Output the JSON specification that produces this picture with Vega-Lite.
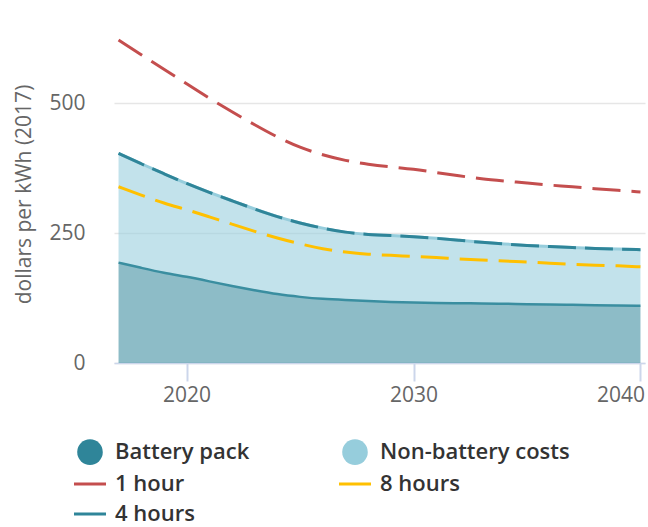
{
  "$schema": "https://vega.github.io/schema/vega-lite/v6.json",
  "width": 531,
  "height": 338,
  "autosize": {"type": "none"},
  "padding": {"left": 114, "top": 25, "right": 3, "bottom": 164},
  "background": "white",
  "config": {
    "view": {"stroke": null},
    "font": "Open Sans"
  },
  "datasets": {
    "areas": [
      {"year": 2017, "battery": 193, "total": 403},
      {"year": 2018, "battery": 183, "total": 383},
      {"year": 2019, "battery": 173, "total": 364},
      {"year": 2020, "battery": 166, "total": 345},
      {"year": 2021, "battery": 157, "total": 328},
      {"year": 2022, "battery": 148, "total": 312},
      {"year": 2023, "battery": 140, "total": 296},
      {"year": 2024, "battery": 132, "total": 281},
      {"year": 2025, "battery": 127, "total": 269},
      {"year": 2026, "battery": 123, "total": 259},
      {"year": 2027, "battery": 121, "total": 251},
      {"year": 2028, "battery": 119, "total": 247},
      {"year": 2029, "battery": 117.5, "total": 245},
      {"year": 2030, "battery": 116, "total": 243},
      {"year": 2031, "battery": 115.5, "total": 240},
      {"year": 2032, "battery": 115, "total": 236},
      {"year": 2033, "battery": 114.5, "total": 232},
      {"year": 2034, "battery": 114, "total": 229},
      {"year": 2035, "battery": 113, "total": 226},
      {"year": 2036, "battery": 112.5, "total": 224},
      {"year": 2037, "battery": 112, "total": 222},
      {"year": 2038, "battery": 111, "total": 220},
      {"year": 2039, "battery": 110.5, "total": 219},
      {"year": 2040, "battery": 110, "total": 218}
    ],
    "lines": [
      {"year": 2017, "series": "1 hour", "value": 621},
      {"year": 2018, "series": "1 hour", "value": 593},
      {"year": 2019, "series": "1 hour", "value": 565},
      {"year": 2020, "series": "1 hour", "value": 537},
      {"year": 2021, "series": "1 hour", "value": 509},
      {"year": 2022, "series": "1 hour", "value": 483},
      {"year": 2023, "series": "1 hour", "value": 458},
      {"year": 2024, "series": "1 hour", "value": 434},
      {"year": 2025, "series": "1 hour", "value": 414},
      {"year": 2026, "series": "1 hour", "value": 400},
      {"year": 2027, "series": "1 hour", "value": 389},
      {"year": 2028, "series": "1 hour", "value": 382},
      {"year": 2029, "series": "1 hour", "value": 377},
      {"year": 2030, "series": "1 hour", "value": 373},
      {"year": 2031, "series": "1 hour", "value": 366},
      {"year": 2032, "series": "1 hour", "value": 360},
      {"year": 2033, "series": "1 hour", "value": 354},
      {"year": 2034, "series": "1 hour", "value": 350},
      {"year": 2035, "series": "1 hour", "value": 346},
      {"year": 2036, "series": "1 hour", "value": 342},
      {"year": 2037, "series": "1 hour", "value": 339},
      {"year": 2038, "series": "1 hour", "value": 335},
      {"year": 2039, "series": "1 hour", "value": 332},
      {"year": 2040, "series": "1 hour", "value": 329},
      {"year": 2017, "series": "8 hours", "value": 339},
      {"year": 2018, "series": "8 hours", "value": 323},
      {"year": 2019, "series": "8 hours", "value": 307},
      {"year": 2020, "series": "8 hours", "value": 295},
      {"year": 2021, "series": "8 hours", "value": 281},
      {"year": 2022, "series": "8 hours", "value": 267},
      {"year": 2023, "series": "8 hours", "value": 253},
      {"year": 2024, "series": "8 hours", "value": 240},
      {"year": 2025, "series": "8 hours", "value": 229},
      {"year": 2026, "series": "8 hours", "value": 219},
      {"year": 2027, "series": "8 hours", "value": 213},
      {"year": 2028, "series": "8 hours", "value": 209},
      {"year": 2029, "series": "8 hours", "value": 207},
      {"year": 2030, "series": "8 hours", "value": 205},
      {"year": 2031, "series": "8 hours", "value": 203},
      {"year": 2032, "series": "8 hours", "value": 200},
      {"year": 2033, "series": "8 hours", "value": 198},
      {"year": 2034, "series": "8 hours", "value": 196},
      {"year": 2035, "series": "8 hours", "value": 194},
      {"year": 2036, "series": "8 hours", "value": 192},
      {"year": 2037, "series": "8 hours", "value": 190},
      {"year": 2038, "series": "8 hours", "value": 188},
      {"year": 2039, "series": "8 hours", "value": 187},
      {"year": 2040, "series": "8 hours", "value": 185},
      {"year": 2017, "series": "4 hours", "value": 403},
      {"year": 2018, "series": "4 hours", "value": 383},
      {"year": 2019, "series": "4 hours", "value": 364},
      {"year": 2020, "series": "4 hours", "value": 345},
      {"year": 2021, "series": "4 hours", "value": 328},
      {"year": 2022, "series": "4 hours", "value": 312},
      {"year": 2023, "series": "4 hours", "value": 296},
      {"year": 2024, "series": "4 hours", "value": 281},
      {"year": 2025, "series": "4 hours", "value": 269},
      {"year": 2026, "series": "4 hours", "value": 259},
      {"year": 2027, "series": "4 hours", "value": 251},
      {"year": 2028, "series": "4 hours", "value": 247},
      {"year": 2029, "series": "4 hours", "value": 245},
      {"year": 2030, "series": "4 hours", "value": 243},
      {"year": 2031, "series": "4 hours", "value": 240},
      {"year": 2032, "series": "4 hours", "value": 236},
      {"year": 2033, "series": "4 hours", "value": 232},
      {"year": 2034, "series": "4 hours", "value": 229},
      {"year": 2035, "series": "4 hours", "value": 226},
      {"year": 2036, "series": "4 hours", "value": 224},
      {"year": 2037, "series": "4 hours", "value": 222},
      {"year": 2038, "series": "4 hours", "value": 220},
      {"year": 2039, "series": "4 hours", "value": 219},
      {"year": 2040, "series": "4 hours", "value": 218}
    ]
  },
  "encoding": {
    "x": {
      "field": "year",
      "type": "quantitative",
      "scale": {"domain": [2016.8, 2040.2], "nice": false, "zero": false},
      "axis": {
        "values": [2020, 2030, 2040],
        "format": "d",
        "title": null,
        "grid": false,
        "domainColor": "#ccd6eb",
        "domainWidth": 1.5,
        "tickColor": "#ccd6eb",
        "tickWidth": 2,
        "tickSize": 18,
        "labelFontSize": 21,
        "labelColor": "#666666",
        "labelPadding": 3,
        "labelFont": "Open Sans",
        "labelFlush": 6,
        "labelFlushOffset": 4
      }
    }
  },
  "layer": [
    {
      "data": {"name": "areas"},
      "mark": {"type": "area", "interpolate": "basis", "color": "#96cddc", "opacity": 0.58, "line": {"color": "#96cddc", "strokeWidth": 3}},
      "encoding": {
        "y": {
          "field": "total",
          "type": "quantitative",
          "scale": {"domain": [0, 650], "nice": false},
          "axis": {
            "values": [0, 250, 500],
            "title": "dollars per kWh (2017)",
            "titleFontSize": 21,
            "titleFontWeight": "normal",
            "titleColor": "#666666",
            "titleFont": "Open Sans",
            "titlePadding": 14,
            "domain": false,
            "ticks": false,
            "grid": true,
            "gridColor": "#e6e6e6",
            "gridWidth": 1.5,
            "labelFontSize": 21,
            "labelColor": "#666666",
            "labelFont": "Open Sans",
            "labelPadding": 29
          }
        },
        "y2": {"field": "battery"}
      }
    },
    {
      "data": {"name": "areas"},
      "mark": {"type": "area", "interpolate": "basis", "color": "#2f8599", "opacity": 0.55},
      "encoding": {
        "y": {"field": "battery", "type": "quantitative"}
      }
    },
    {
      "data": {"name": "areas"},
      "mark": {"type": "line", "interpolate": "basis", "color": "#3a8ea0", "strokeWidth": 2.5},
      "encoding": {
        "y": {"field": "battery", "type": "quantitative"}
      }
    },
    {
      "data": {"name": "lines"},
      "mark": {"type": "line", "interpolate": "basis", "strokeWidth": 3},
      "encoding": {
        "y": {"field": "value", "type": "quantitative"},
        "color": {
          "field": "series",
          "type": "nominal",
          "scale": {
            "domain": ["Battery pack", "1 hour", "4 hours", "Non-battery costs", "8 hours"],
            "range": ["#2f8599", "#c44e4e", "#2f8599", "#96cddc", "#ffc000"]
          },
          "legend": {
            "title": null,
            "orient": "none",
            "legendX": -35,
            "legendY": 416,
            "columns": 2,
            "columnPadding": 83,
            "rowPadding": 8,
            "padding": 0,
            "labelFontSize": 22,
            "labelFont": "Open Sans",
            "labelColor": "#333333",
            "labelFontWeight": 600,
            "labelOffset": 14,
            "labelLimit": 400,
            "symbolSize": 1024,
            "symbolType": "stroke",
            "symbolStrokeWidth": 3,
            "encode": {
              "symbols": {
                "update": {
                  "shape": {"signal": "(datum.value === 'Battery pack' || datum.value === 'Non-battery costs') ? 'circle' : 'stroke'"},
                  "size": {"signal": "(datum.value === 'Battery pack' || datum.value === 'Non-battery costs') ? 655 : 1024"},
                  "fill": {"scale": "color", "field": "value"},
                  "stroke": {"scale": "color", "field": "value"},
                  "strokeWidth": {"signal": "(datum.value === 'Battery pack' || datum.value === 'Non-battery costs') ? 0 : 3"},
                  "strokeDash": {"value": [1, 0]},
                  "opacity": {"value": 1}
                }
              }
            }
          }
        },
        "strokeDash": {
          "field": "series",
          "type": "nominal",
          "scale": {
            "domain": ["1 hour", "8 hours", "4 hours"],
            "range": [[28, 11], [28, 11], [28, 9]]
          },
          "legend": null
        }
      }
    }
  ]
}
